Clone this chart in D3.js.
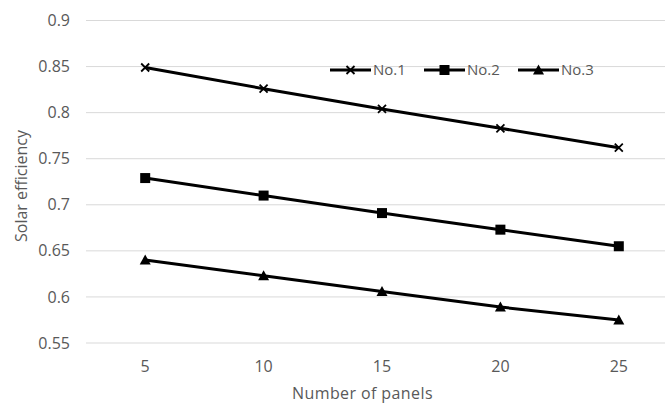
<!DOCTYPE html>
<html>
<head>
<meta charset="utf-8">
<script src="https://cdn.jsdelivr.net/npm/d3@7"></script>
<style>
  html, body { margin: 0; padding: 0; background: #fff; }
  svg { display: block; font-family: "Open Sans", "Liberation Sans", sans-serif; }
</style>
</head>
<body>
<svg id="chart" width="665" height="403"></svg>
<script>
// Panel counts along the x axis
const panels = ["5", "10", "15", "20", "25"];
// Solar efficiency for each configuration
const no1 = [0.849, 0.826, 0.804, 0.783, 0.762];
const no2 = [0.729, 0.710, 0.691, 0.673, 0.655];
const no3 = [0.640, 0.623, 0.606, 0.589, 0.575];
const seriesNames = ["No.1", "No.2", "No.3"];
const markerKinds = ["cross", "square", "triangle"];
const yTicks = [0.55, 0.6, 0.65, 0.7, 0.75, 0.8, 0.85, 0.9];

const series = [no1, no2, no3].map((vals, i) => ({
  name: seriesNames[i],
  marker: markerKinds[i],
  values: vals.map((v, j) => ({ x: panels[j], y: v }))
}));

const svg = d3.select("#chart");
const plotLeft = 86, plotRight = 678, plotTop = 20.5, plotBottom = 343;
const textGrey = "#595959";

const x = d3.scaleBand().domain(panels).range([plotLeft, plotRight]);
const y = d3.scaleLinear().domain([0.55, 0.9]).range([plotBottom, plotTop]);

// Horizontal gridlines
svg.append("g")
  .selectAll("line")
  .data(yTicks)
  .join("line")
  .attr("x1", plotLeft).attr("x2", plotRight)
  .attr("y1", d => y(d)).attr("y2", d => y(d))
  .attr("stroke", "#d9d9d9").attr("stroke-width", 1);

// Y axis labels
const yAxis = d3.axisLeft(y).tickValues(yTicks).tickSize(0).tickPadding(16)
  .tickFormat(d => String(+d.toFixed(2)));
svg.append("g")
  .attr("transform", `translate(${plotLeft},0)`)
  .call(yAxis)
  .call(g => g.select(".domain").remove())
  .call(g => g.selectAll("text").attr("fill", textGrey).style("font-size", "16px")
    .style("font-family", "'Open Sans', sans-serif"));

// X axis labels
const xAxis = d3.axisBottom(x).tickSize(0).tickPadding(18);
svg.append("g")
  .attr("transform", `translate(0,${plotBottom})`)
  .call(xAxis)
  .call(g => g.select(".domain").remove())
  .call(g => g.selectAll("text").attr("fill", textGrey).style("font-size", "16px")
    .style("font-family", "'Open Sans', sans-serif"));

// Axis titles
svg.append("text")
  .attr("x", 362.5).attr("y", 398.5)
  .attr("text-anchor", "middle")
  .attr("fill", textGrey).style("font-size", "16px").style("letter-spacing", "0.4px")
  .text("Number of panels");

svg.append("text")
  .attr("transform", `translate(27,186) rotate(-90)`)
  .attr("text-anchor", "middle")
  .attr("fill", textGrey).style("font-size", "16px")
  .text("Solar efficiency");

// Marker drawing
function drawMarker(g, kind) {
  if (kind === "cross") {
    g.append("path").attr("d", "M-4,-4L4,4M-4,4L4,-4")
      .attr("stroke", "#000").attr("stroke-width", 1.8).attr("fill", "none");
  } else if (kind === "square") {
    g.append("rect").attr("x", -5).attr("y", -5).attr("width", 10).attr("height", 10)
      .attr("fill", "#000");
  } else {
    g.append("path").attr("d", "M0,-5.5L5.5,4.5L-5.5,4.5Z").attr("fill", "#000");
  }
}

const line = d3.line().x(d => x(d.x) + x.bandwidth() / 2).y(d => y(d.y));

series.forEach(s => {
  svg.append("path")
    .datum(s.values)
    .attr("d", line)
    .attr("fill", "none").attr("stroke", "#000").attr("stroke-width", 3);
  svg.append("g")
    .selectAll("g")
    .data(s.values)
    .join("g")
    .attr("transform", d => `translate(${x(d.x) + x.bandwidth() / 2},${y(d.y)})`)
    .each(function () { drawMarker(d3.select(this), s.marker); });
});

// Legend
const legendX = [330, 424, 518];
const legendY = 70;
series.forEach((s, i) => {
  const g = svg.append("g").attr("transform", `translate(${legendX[i]},${legendY})`);
  g.append("line").attr("x1", 0).attr("x2", 41).attr("y1", 0).attr("y2", 0)
    .attr("stroke", "#000").attr("stroke-width", 3);
  const m = g.append("g").attr("transform", "translate(20.5,0)");
  drawMarker(m, s.marker);
  g.append("text").attr("x", 43).attr("y", 0).attr("dy", "0.36em")
    .attr("fill", textGrey).style("font-size", "15px").text(s.name);
});
</script>
</body>
</html>
